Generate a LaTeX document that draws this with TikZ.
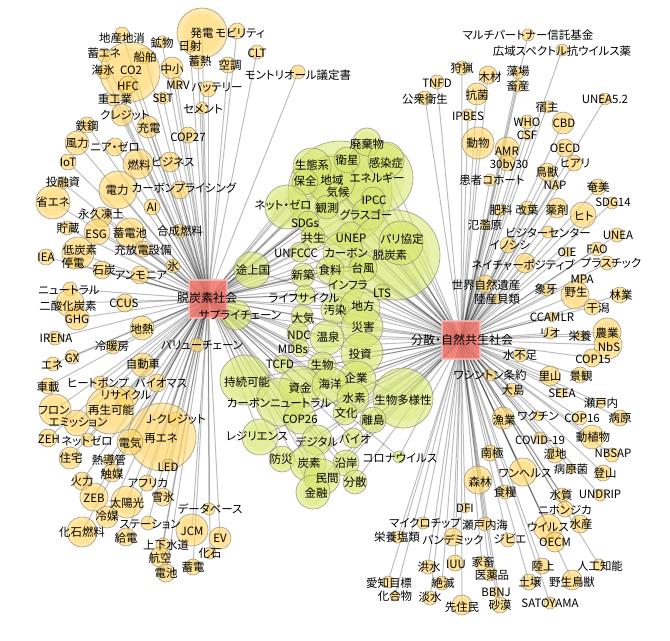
\documentclass[tikz,border=0pt]{standalone}
\usepackage{fontspec}
\setmainfont{Noto Sans CJK JP}[RawFeature={+palt}]
\definecolor{ofill}{RGB}{255,214,102}
\definecolor{gfill}{RGB}{214,232,110}
\definecolor{nodeline}{RGB}{150,140,110}
\definecolor{hubfill}{RGB}{242,120,110}
\def\leftlist{202/33/25/202/33/発電,237/31/8/240/33/モビリティ,122/34/7/122/38/地産地消,162/42/6/162/43/鉱物,190/46/6/190/46/日射,104/55/7/104/53/蓄エネ,145/56/8/145/57/船舶,130/72/30/131/70/CO2,104/72/7/103/70/海氷,128/85/9/128/86/HFC,172/68/11/172/69/中小,198/62/7/200/61/蓄熱,228/65/8/230/65/空調,257/52/7/257/53/CLT,298/72/7/298/75/モントリオール議定書,177/83/6/178/85/MRV,208/89/8/217/87/バッテリー,113/100/6/115/99/重工業,163/98/6/163/98/SBT,202/108/6/203/109/セメント,122/115/11/125/115/クレジット,87/125/8/87/126/鉄鋼,148/127/11/149/128/充電,188/135/8/188/137/COP27,77/143/12/77/143/風力,115/147/9/115/147/ニア・ゼロ,68/162/8/68/162/IoT,138/164/15/139/165/燃料,170/162/10/173/162/ビジネス,63/183/6/63/182/投融資,118/190/19/117/190/電力,180/190/9/184/188/カーボンプライシング,53/202/17/53/202/省エネ,152/207/8/152/207/AI,102/217/10/101/214/永久凍土,67/228/7/68/228/貯蔵,97/232/13/96/234/ESG,130/233/15/130/233/蓄電池,180/231/7/180/231/合成燃料,46/257/8/46/257/IEA,78/253/16/80/250/低炭素,73/263/6/73/263/停電,143/249/8/143/250/充放電設備,173/266/7/173/266/氷,102/270/9/104/270/石炭,140/275/9/141/276/アンモニア,70/289/7/69/290/ニュートラル,70/303/14/68/306/二酸化炭素,125/303/9/124/303/CCUS,77/318/12/77/319/GHG,142/328/12/142/329/地熱,55/338/7/56/338/IRENA,113/347/7/112/346/冷暖房,197/345/7/202/345/バリューチェーン,72/357/7/72/358/GX,53/364/7/52/365/エネ,143/365/12/143/364/自動車,48/386/8/48/387/車載,100/383/7/98/383/ヒートポンプ,157/383/9/161/383/バイオマス,127/397/11/126/395/リサイクル,110/410/24/111/410/再生可能,55/410/16/54/410/フロン,175/419/7/176/419/J-クレジット,77/423/13/78/423/エミッション,162/437/34/161/438/再エネ,48/438/9/49/439/ZEH,88/440/7/87/441/ネットゼロ,130/442/13/130/443/電気,168/465/6/168/467/LED,70/458/11/71/458/住宅,109/460/6/109/460/熱導管,112/473/9/112/474/触媒,82/481/9/82/481/火力,147/483/8/148/483/アフリカ,94/497/14/94/498/ZEB,127/502/16/127/503/太陽光,163/497/9/163/497/雪氷,209/509/6/210/509/データベース,107/517/11/107/516/冷媒,82/532/15/82/532/化石燃料,148/523/7/150/524/ステーション,192/530/16/192/531/JCM,220/538/11/220/538/EV,126/537/9/126/538/給電,163/545/7/166/545/上下水道,210/553/6/210/553/化石,160/557/10/160/558/航空,193/567/8/193/567/蓄電,166/573/9/166/573/電池}
\def\rightlist{528/35/6/528/35/マルチパートナー信託基金,562/50/6/562/51/広域スペクトル抗ウイルス薬,437/82/7/437/83/TNFD,425/98/7/425/99/公衆衛生,462/68/7/462/68/狩猟,488/75/9/490/77/木材,518/73/6/518/71/藻場,518/86/6/518/86/畜産,477/94/11/477/95/抗菌,605/99/6/605/99/UNEA5.2,547/107/6/547/107/宿主,468/115/6/468/116/IPBES,527/122/7/527/122/WHO,563/123/11/564/123/CBD,478/143/16/478/143/動物,527/135/5/527/135/CSF,507/149/12/507/151/AMR,565/148/9/565/148/OECD,507/163/8/509/165/30by30,574/163/8/575/163/ヒアリ,547/172/9/547/172/鳥獣,490/180/6/492/180/患者コホート,555/185/5/555/185/NAP,598/187/8/598/187/奄美,612/203/6/613/202/SDG14,500/210/6/501/210/肥料,527/208/7/527/210/改葉,557/208/10/557/210/薬剤,583/215/13/584/216/ヒト,485/225/5/485/225/氾濫原,548/232/6/548/233/ビジターセンター,617/235/7/618/235/UNEA,508/245/8/510/245/イノシシ,567/252/5/567/252/OIE,597/249/7/597/249/FAO,525/263/10/523/265/ネイチャーポジティブ,607/263/7/611/263/プラスチック,485/284/9/486/285/世界自然遺産,582/279/5/582/279/MPA,547/290/6/546/289/象牙,575/295/14/576/292/野生,620/295/8/621/295/林業,497/299/5/497/299/陸産貝類,592/307/8/598/308/干潟,552/317/5/552/317/CCAMLR,550/333/6/550/333/リオ,580/336/5/580/336/栄養,607/332/14/607/333/農業,608/345/14/609/347/NbS,592/358/9/593/359/COP15,520/355/7/520/355/水不足,490/375/6/490/375/ワシントン条約,550/376/10/550/376/里山,580/375/8/581/376/景観,512/390/7/513/390/大島,562/393/5/562/393/SEEA,601/403/5/601/403/瀬戸内,503/418/11/504/420/漁業,538/416/5/538/416/ワクチン,580/418/7/582/418/COP16,620/418/8/620/418/病原,540/438/6/540/440/COVID-19,592/437/12/593/437/動植物,490/453/8/492/453/南極,555/455/8/555/454/湿地,612/455/7/613/453/NBSAP,571/469/5/571/469/病原菌,523/472/14/525/473/ワンヘルス,603/473/8/605/473/登山,478/480/14/480/482/森林,505/492/7/505/492/食糧,562/495/7/561/495/水質,600/495/6/600/494/UNDRIP,465/508/5/465/508/DFI,565/509/8/565/510/ニホンジカ,485/524/7/485/525/瀬戸内海,423/523/6/425/523/マイクロチップ,548/528/14/548/527/ウイルス,580/524/9/581/524/水産,398/537/6/397/537/栄養塩類,453/537/9/453/540/パンデミック,508/540/7/510/539/ジビエ,555/542/10/555/542/OECM,428/567/7/429/567/洪水,455/563/8/456/564/IUU,482/563/7/483/562/家畜,542/566/8/543/566/陸上,599/565/6/600/566/人工知能,490/574/7/492/575/医薬品,529/582/8/530/582/土壌,572/580/10/572/582/野生鳥獣,388/582/6/389/583/愛知目標,442/583/7/443/583/絶滅,496/592/5/496/592/BBNJ,395/596/5/395/596/化合物,430/598/7/430/597/淡水,500/605/8/500/605/砂漠,550/603/6/550/603/SATOYAMA,462/605/10/462/607/先住民}
\def\greenlist{340/193/52/338/192/気候,377/178/36/377/178/エネルギー,331/180/24/332/180/地域,312/167/19/312/165/生態系,305/182/13/305/181/保全,347/160/13/347/160/衛星,367/142/14/367/144/廃棄物,386/160/18/386/163/感染症,327/207/12/327/208/観測,373/199/12/374/200/IPCC,368/214/16/366/215/グラスゴー,287/207/22/283/205/ネット・ゼロ,308/222/11/305/223/SDGs,313/237/12/313/238/共生,351/236/14/351/238/UNEP,395/255/45/390/255/脱炭素,401/243/22/402/239/パリ協定,300/252/10/296/253/UNFCCC,343/252/20/346/253/カーボン,252/270/18/253/270/途上国,303/275/12/303/275/新築,330/270/14/330/270/食料,363/268/14/363/268/台風,347/285/18/348/285/インフラ,382/292/8/382/293/LTS,305/295/10/304/298/ライフサイクル,236/315/15/240/315/サプライチェーン,335/310/14/335/310/汚染,360/308/20/363/306/地方,302/316/11/303/318/大気,362/327/21/363/327/災害,298/333/11/299/335/NDC,327/338/17/328/337/温泉,300/348/9/293/349/MDBs,362/353/21/360/354/投資,282/364/9/280/364/TCFD,322/366/14/322/365/生物,357/380/19/356/378/企業,245/380/25/247/382/持続可能,300/387/21/300/388/資金,330/385/18/330/384/海洋,403/398/30/403/400/生物多様性,353/398/16/354/398/水素,280/402/24/279/403/カーボンニュートラル,345/413/12/346/413/文化,300/418/16/300/419/COP26,373/420/13/373/420/離島,260/437/18/257/436/レジリエンス,317/440/15/317/442/デジタル,353/438/10/355/439/バイオ,399/457/6/400/458/コロナウイルス,282/459/13/281/459/防災,308/463/18/309/463/炭素,346/463/13/346/463/沿岸,322/477/18/327/478/民間,355/482/12/355/482/分散,313/492/17/316/493/金融}
\tikzset{
  onode/.style={circle, inner sep=0pt, outer sep=0pt, fill=ofill, fill opacity=0.55, draw=nodeline, draw opacity=0.8, line width=0.5pt},
  oinner/.style={fill=ofill, fill opacity=0.3},
  gnode/.style={circle, inner sep=0pt, outer sep=0pt, fill=gfill, fill opacity=0.55, draw=nodeline, draw opacity=0.8, line width=0.5pt},
  ginner/.style={fill=gfill, fill opacity=0.3},
  hub/.style={rectangle, minimum width=28pt, minimum height=28pt, inner sep=0pt, outer sep=0pt, fill=hubfill, fill opacity=0.85, draw=hubfill!50!white, draw opacity=0.8, line width=1.5pt},
  edge/.style={draw=black, draw opacity=0.26, line width=0.75pt},
  lbl/.style={inner sep=0pt, font=\fontsize{8.6}{10}\selectfont, text=black},
  hublbl/.style={inner sep=0pt, font=\fontsize{9}{11}\selectfont, text=black}
}
\begin{document}
\begin{tikzpicture}[x=0.75pt,y=-0.75pt]
\fill[white] (0,0) rectangle (670,640);
\useasboundingbox (0,0) rectangle (670,640);
% hub centres
\coordinate (hubLc) at (208,299);
\coordinate (hubRc) at (461,340);
% node centres
\foreach \px/\py/\pr/\qx/\qy/\lab [count=\i] in \leftlist {\coordinate (pL\i) at (\px,\py);}
\foreach \px/\py/\pr/\qx/\qy/\lab [count=\i] in \rightlist {\coordinate (pR\i) at (\px,\py);}
\foreach \px/\py/\pr/\qx/\qy/\lab [count=\i] in \greenlist {\coordinate (pG\i) at (\px,\py);}
% connectors
\foreach \px/\py/\pr/\qx/\qy/\lab [count=\i] in \leftlist {\draw[edge] (hubLc) -- (pL\i);}
\foreach \px/\py/\pr/\qx/\qy/\lab [count=\i] in \rightlist {\draw[edge] (hubRc) -- (pR\i);}
\foreach \px/\py/\pr/\qx/\qy/\lab [count=\i] in \greenlist {\draw[edge] (hubLc) -- (pG\i); \draw[edge] (hubRc) -- (pG\i);}
% circles
\foreach \px/\py/\pr/\qx/\qy/\lab [count=\i] in \leftlist {
  \node[onode, minimum size={\pr*1.5pt}] (L\i) at (pL\i) {};
  \fill[oinner] (pL\i) circle[radius=0.78*\pr];}
\foreach \px/\py/\pr/\qx/\qy/\lab [count=\i] in \rightlist {
  \node[onode, minimum size={\pr*1.5pt}] (R\i) at (pR\i) {};
  \fill[oinner] (pR\i) circle[radius=0.78*\pr];}
\foreach \px/\py/\pr/\qx/\qy/\lab [count=\i] in \greenlist {
  \node[gnode, minimum size={\pr*1.5pt}] (G\i) at (pG\i) {};
  \fill[ginner] (pG\i) circle[radius=0.78*\pr];}
% hubs
\node[hub] (hubL) at (hubLc) {};
\node[hub] (hubR) at (hubRc) {};
% labels
\foreach \px/\py/\pr/\qx/\qy/\lab [count=\i] in \leftlist {\node[lbl] (LT\i) at (\qx,\qy) {\lab};}
\foreach \px/\py/\pr/\qx/\qy/\lab [count=\i] in \rightlist {\node[lbl] (RT\i) at (\qx,\qy) {\lab};}
\foreach \px/\py/\pr/\qx/\qy/\lab [count=\i] in \greenlist {\node[lbl] (GT\i) at (\qx,\qy) {\lab};}
\node[hublbl] (hubLt) at (207,298) {脱炭素社会};
\node[hublbl] (hubRt) at (462,340) {分散・自然共生社会};
\end{tikzpicture}
\end{document}
